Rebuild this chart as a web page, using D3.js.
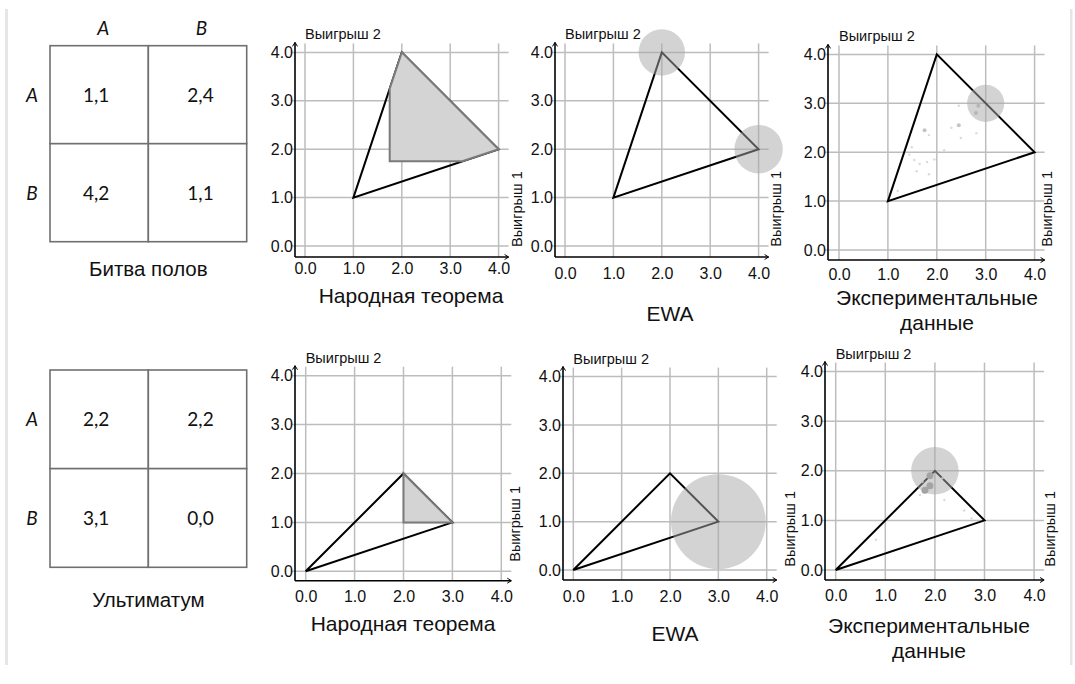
<!DOCTYPE html>
<html><head><meta charset="utf-8">
<script src="https://cdn.jsdelivr.net/npm/d3@7"></script>
<style>
body{margin:0;background:#fff;}
svg{display:block;}
</style></head>
<body>
<svg id="chart" width="1075" height="684"></svg>
<script>
// ---------- DATA ----------
const tickValues = [0, 1, 2, 3, 4];
const tickLabels = ["0.0", "1.0", "2.0", "3.0", "4.0"];
const strategyLabels = ["A", "B"];
const gameNames = ["Битва полов", "Ультиматум"];
const bosPayoffs = [["1,1", "2,4"], ["4,2", "1,1"]];
const ultPayoffs = [["2,2", "2,2"], ["3,1", "0,0"]];
const panelTitles = [["Народная теорема"], ["EWA"], ["Экспериментальные", "данные"]];
const axisLabelX = "Выигрыш 1";
const axisLabelY = "Выигрыш 2";
const bosHull = [[1, 1], [2, 4], [4, 2]];
const ultHull = [[0, 0], [2, 2], [3, 1]];
const bosFolk = [[1.75, 1.75], [1.75, 3.25], [2, 4], [4, 2], [3.25, 1.75]];
const ultFolk = [[2, 1], [2, 2], [3, 1]];
const bosEwa = [[2, 4, 0.48], [4, 2, 0.5]];
const ultEwa = [[3, 1, 0.98]];
const bosExpCircle = [[3, 3, 0.38]];
const ultExpCircle = [[2, 2, 0.48]];
// experimental points: x, y, weight (1 = small, 2 = medium, 3 = large)
const bosExpPoints = [
  [2.85, 2.95, 2], [2.80, 2.80, 2], [2.45, 2.95, 1], [2.45, 2.55, 2], [2.30, 2.50, 1],
  [2.81, 2.39, 1], [2.49, 2.29, 1], [1.75, 2.45, 2], [1.84, 2.35, 1], [2.15, 2.04, 1],
  [1.49, 2.10, 1], [1.44, 1.95, 1], [1.54, 1.84, 1], [1.65, 1.76, 1], [1.80, 1.80, 1],
  [1.95, 1.85, 1], [1.59, 1.61, 1], [1.84, 1.55, 1], [1.20, 1.21, 1]
];
const ultExpPoints = [
  [1.90, 1.90, 3], [1.80, 1.61, 3], [1.90, 1.70, 3], [1.70, 1.51, 1], [2.19, 1.41, 1],
  [0.81, 0.61, 1], [2.15, 1.85, 1], [2.59, 1.20, 1], [2.74, 1.04, 1], [1.75, 1.78, 1]
];

const games = [
  {name: gameNames[0], payoffs: bosPayoffs, colLabels: true, hull: bosHull, folk: bosFolk, ewa: bosEwa, expC: bosExpCircle, expP: bosExpPoints},
  {name: gameNames[1], payoffs: ultPayoffs, colLabels: false, hull: ultHull, folk: ultFolk, ewa: ultEwa, expC: ultExpCircle, expP: ultExpPoints}
];

// ---------- LAYOUT ----------
const matrices = [
  {x: 50, y: 45.7, w: 196.7, h: 196, titleY: 275.5},
  {x: 50, y: 370, w: 196.7, h: 197.3, titleY: 606.5}
];
const panels = [
  {g: 0, kind: "folk", ax: 295, x0: 305, u: 48.4, y0: 246, xa: 257, tx: 411, ty: [302.5], l1x: 517, l1b: 247, xt: 11},
  {g: 0, kind: "ewa", ax: 555, x0: 565, u: 48.4, y0: 246, xa: 257, tx: 670, ty: [320.5], l1x: 776, l1b: 246.7, xt: 16},
  {g: 0, kind: "exp", ax: 828, x0: 839, u: 48.9, y0: 250, xa: 260, tx: 937, ty: [304.5, 329.5], l1x: 1047, l1b: 246.7, xt: 14},
  {g: 1, kind: "folk", ax: 295, x0: 305.7, u: 48.9, y0: 571.3, xa: 580.7, tx: 403, ty: [630.5], l1x: 515, l1b: 561.7, xt: 16},
  {g: 1, kind: "ewa", ax: 563, x0: 573.3, u: 48.35, y0: 570, xa: 580, tx: 675, ty: [640.5], l1x: 790, l1b: 566.7, xt: 16},
  {g: 1, kind: "exp", ax: 825, x0: 835.7, u: 49.6, y0: 570, xa: 580, tx: 929, ty: [632.5, 657.5], l1x: 1050, l1b: 566.7, xt: 15}
];
const titleIndex = {folk: 0, ewa: 1, exp: 2};

const svg = d3.select("#chart");
const SANS = "'Liberation Sans', Arial, sans-serif";
const CAL = "Lato, 'Open Sans', sans-serif";
const TICK_FS = 16;

// page frame lines
svg.append("rect").attr("x", 5).attr("y", 9).attr("width", 3).attr("height", 656).attr("fill", "#e6e6e6");
svg.append("rect").attr("x", 1070).attr("y", 9).attr("width", 2.5).attr("height", 656).attr("fill", "#e6e6e6");

// ---------- MATRICES ----------
games.forEach((game, gi) => {
  const m = matrices[gi];
  const g = svg.append("g");
  const bx = d3.scaleBand().domain([0, 1]).range([m.x, m.x + m.w]);
  const by = d3.scaleBand().domain([0, 1]).range([m.y, m.y + m.h]);
  game.payoffs.forEach((row, r) => row.forEach((cell, c) => {
    g.append("rect").attr("x", bx(c)).attr("y", by(r)).attr("width", bx.bandwidth()).attr("height", by.bandwidth())
      .attr("fill", "#fff").attr("stroke", "#707070").attr("stroke-width", 1.6);
    g.append("text").attr("x", bx(c) + bx.bandwidth() / 2 + (c === 0 ? -3 : 3)).attr("y", by(r) + by.bandwidth() / 2 + 7)
      .attr("text-anchor", "middle").attr("font-family", CAL).attr("font-size", 19).attr("fill", "#111")
      .text(cell);
  }));
  strategyLabels.forEach((lab, i) => {
    g.append("text").attr("x", 32).attr("y", by(i) + by.bandwidth() / 2 + 7)
      .attr("text-anchor", "middle").attr("font-family", CAL).attr("font-style", "italic").attr("font-size", 19).attr("fill", "#111").text(lab);
    if (game.colLabels) {
      g.append("text").attr("x", bx(i) + bx.bandwidth() / 2 + 4).attr("y", 35)
        .attr("text-anchor", "middle").attr("font-family", CAL).attr("font-style", "italic").attr("font-size", 19).attr("fill", "#111").text(lab);
    }
  });
  g.append("text").attr("x", m.x + m.w / 2).attr("y", m.titleY).attr("text-anchor", "middle")
    .attr("font-family", SANS).attr("font-size", 20.5).attr("fill", "#111").text(game.name);
});

// ---------- PANELS ----------
panels.forEach(p => {
  const game = games[p.g];
  const x = d3.scaleLinear().domain([0, 4]).range([p.x0, p.x0 + 4 * p.u]);
  const y = d3.scaleLinear().domain([0, 4]).range([p.y0, p.y0 - 4 * p.u]);
  const g = svg.append("g");
  const top = y(4) - 10, right = x(4) + 10;

  // grid
  g.append("g").selectAll("line").data(tickValues).join("line")
    .attr("x1", d => x(d)).attr("x2", d => x(d)).attr("y1", top + 1).attr("y2", p.xa)
    .attr("stroke", "#bdbdbd").attr("stroke-width", 1.5);
  g.append("g").selectAll("line").data(tickValues).join("line")
    .attr("x1", p.ax - 3).attr("x2", right).attr("y1", d => y(d)).attr("y2", d => y(d))
    .attr("stroke", "#bdbdbd").attr("stroke-width", 1.5);

  // tick labels via d3 axes
  const yAxis = d3.axisLeft(y).tickValues(tickValues).tickFormat((d, i) => tickLabels[i]).tickSize(0).tickPadding(2);
  const ya = g.append("g").attr("transform", `translate(${p.ax},0)`).call(yAxis);
  const xAxis = d3.axisBottom(x).tickValues(tickValues).tickFormat((d, i) => tickLabels[i]).tickSize(0).tickPadding(p.xt - 0.35 * TICK_FS);
  const xa = g.append("g").attr("transform", `translate(0,${p.xa})`).call(xAxis);
  [ya, xa].forEach(a => {
    a.select(".domain").remove();
    a.selectAll("text").attr("font-family", SANS).attr("font-size", TICK_FS).attr("fill", "#111");
  });

  // axis lines with arrows
  g.append("line").attr("x1", p.ax).attr("x2", p.ax).attr("y1", p.xa).attr("y2", top).attr("stroke", "#000").attr("stroke-width", 1.6);
  g.append("line").attr("x1", p.ax).attr("x2", right).attr("y1", p.xa).attr("y2", p.xa).attr("stroke", "#000").attr("stroke-width", 1.6);
  g.append("path").attr("d", `M${p.ax - 2.5},${top + 4}L${p.ax},${top}L${p.ax + 2.5},${top + 4}`).attr("fill", "none").attr("stroke", "#000").attr("stroke-width", 1);
  g.append("path").attr("d", `M${right - 4},${p.xa - 2.5}L${right},${p.xa}L${right - 4},${p.xa + 2.5}`).attr("fill", "none").attr("stroke", "#000").attr("stroke-width", 1);

  // hull triangle
  const line = d3.line().x(d => x(d[0])).y(d => y(d[1])).curve(d3.curveLinearClosed);
  g.append("path").attr("d", line(game.hull)).attr("fill", "none").attr("stroke", "#000").attr("stroke-width", 2);

  if (p.kind === "folk") {
    g.append("path").attr("d", line(game.folk)).attr("fill", "#d4d4d4")
      .attr("stroke", "#7a7a7a").attr("stroke-width", 2);
  }
  if (p.kind === "ewa") {
    g.selectAll("circle.ewa").data(game.ewa).join("circle")
      .attr("cx", d => x(d[0])).attr("cy", d => y(d[1])).attr("r", d => x(d[2]) - x(0))
      .attr("fill", "#a8a8a8").attr("fill-opacity", 0.5);
  }
  if (p.kind === "exp") {
    g.selectAll("circle.pt").data(game.expP).join("circle")
      .attr("cx", d => x(d[0])).attr("cy", d => y(d[1]))
      .attr("r", d => d[2] === 3 ? 3.5 : d[2] === 2 ? 2 : 1.2)
      .attr("fill", d => d[2] === 3 ? "#a0a0a0" : d[2] === 2 ? "#c4c4c4" : "#dadada");
    g.selectAll("circle.exc").data(game.expC).join("circle")
      .attr("cx", d => x(d[0])).attr("cy", d => y(d[1])).attr("r", d => x(d[2]) - x(0))
      .attr("fill", "#a8a8a8").attr("fill-opacity", 0.5);
  }

  // axis labels
  g.append("text").attr("x", p.x0).attr("y", y(4) - 13).attr("font-family", SANS).attr("font-size", 14.5).attr("fill", "#111").text(axisLabelY);
  g.append("text").attr("transform", `translate(${p.l1x},${p.l1b}) rotate(-90)`).attr("dy", "0.35em")
    .attr("font-family", SANS).attr("font-size", 14.5).attr("fill", "#111").text(axisLabelX);

  // title
  panelTitles[titleIndex[p.kind]].forEach((t, i) => {
    g.append("text").attr("x", p.tx).attr("y", p.ty[i]).attr("text-anchor", "middle")
      .attr("font-family", SANS).attr("font-size", 21).attr("fill", "#111").text(t);
  });
});
</script>
</body></html>
